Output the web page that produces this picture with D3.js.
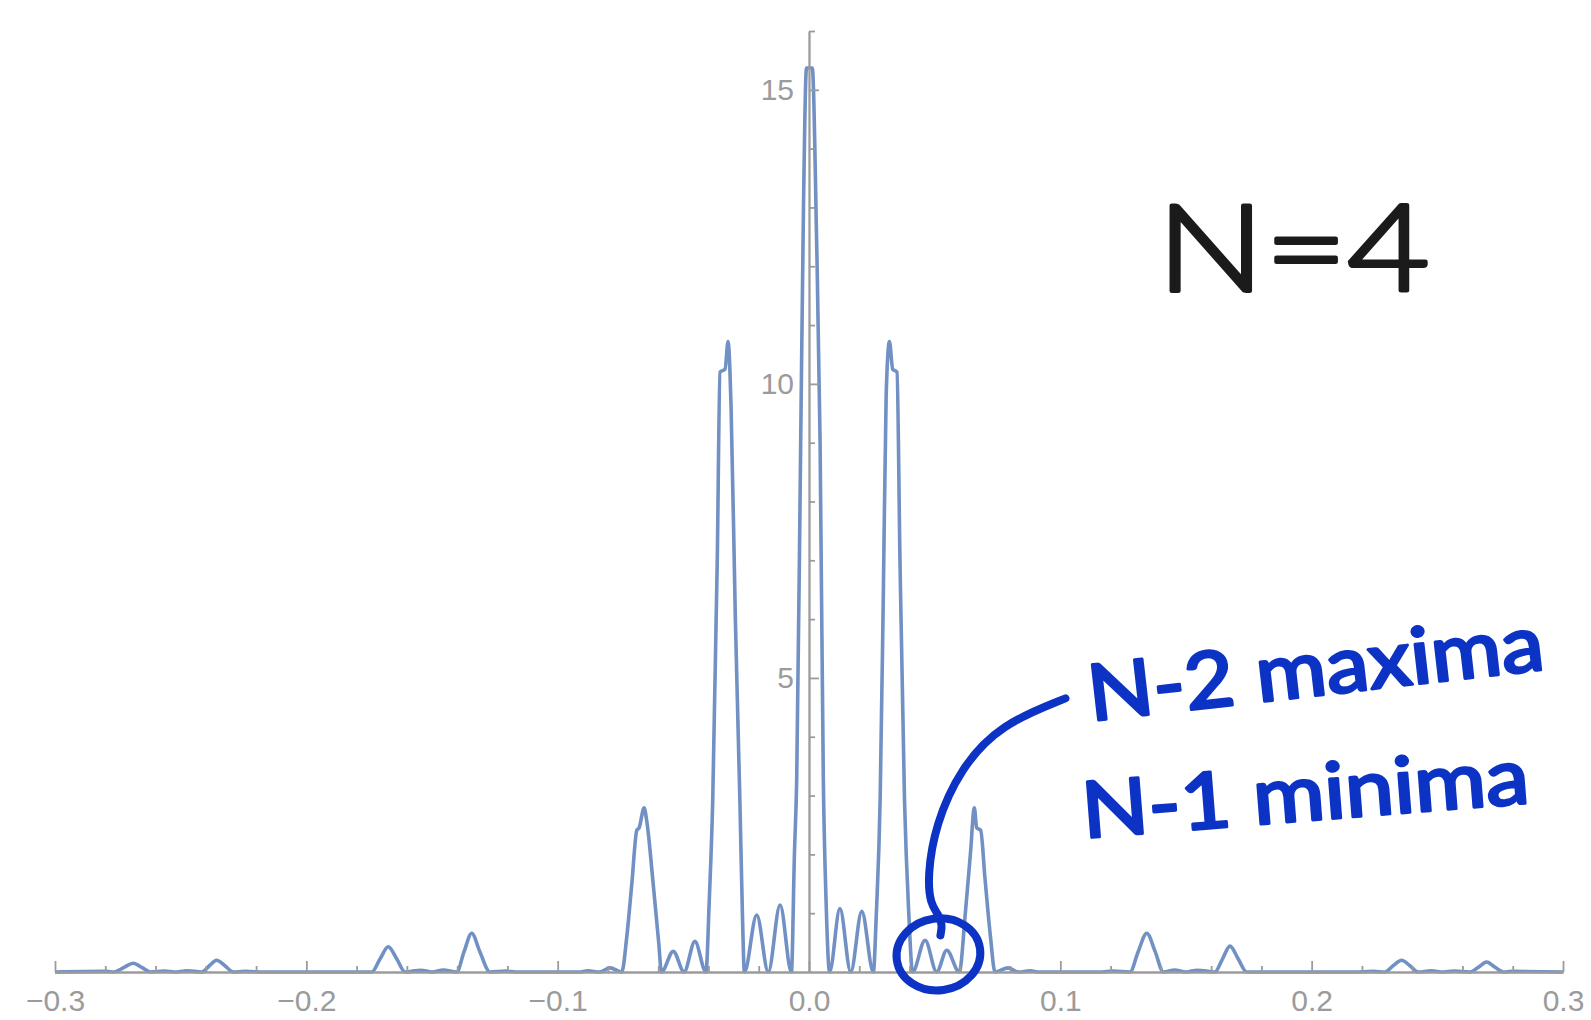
<!DOCTYPE html>
<html>
<head>
<meta charset="utf-8">
<script src="https://cdn.jsdelivr.net/npm/d3@7"></script>
<style>
  body { margin: 0; background: #fff; }
  svg { display: block; }
</style>
</head>
<body>
<div id="chart"></div>
<script>
// intensity curve, points (x = position, y = intensity)
var xPos = [
  -0.3, -0.2795, -0.2765, -0.2725, -0.2689, -0.2655, -0.262, -0.2565, -0.2525, -0.2475,
  -0.2416, -0.2385, -0.2357, -0.2325, -0.229, -0.2245, -0.2167, -0.174, -0.1707, -0.1674,
  -0.164, -0.1607, -0.1545, -0.15, -0.1455, -0.1402, -0.1372, -0.1342, -0.131, -0.1269,
  -0.1205, -0.1167, -0.0917, -0.0879, -0.0833, -0.0792, -0.0745,
  -0.0725, -0.0705, -0.0685, -0.0676, -0.0656, -0.0645, -0.062, -0.0598, -0.0587,
  -0.054, -0.0497, -0.0454, -0.041,
  -0.0397, -0.0383, -0.0365, -0.0354, -0.0334, -0.0322, -0.031, -0.0293, -0.0275, -0.0265, -0.0257,
  -0.0208, -0.0162, -0.0115, -0.007,
  -0.0058, -0.0049, -0.0033, -0.0022, -0.001, 0.0013, 0.003, 0.0044, 0.0057, 0.0068, 0.0082,
  0.0123, 0.0166, 0.021, 0.0256,
  0.0268, 0.0283, 0.0296, 0.0307, 0.032, 0.0333, 0.035, 0.0362, 0.038, 0.0397, 0.0412,
  0.0462, 0.0508, 0.0548, 0.0598,
  0.0622, 0.0642, 0.0658, 0.0667, 0.0683, 0.07, 0.0722, 0.074,
  0.0792, 0.0833, 0.0879, 0.0917, 0.1167, 0.1205, 0.1277, 0.131, 0.1344, 0.1377,
  0.141, 0.1455, 0.15, 0.1545, 0.1615, 0.1645, 0.1675, 0.1708, 0.1741, 0.2167,
  0.2245, 0.2292, 0.2325, 0.2358, 0.239, 0.2424, 0.2475, 0.2525, 0.2565, 0.263,
  0.2663, 0.2696, 0.273, 0.2763, 0.2795, 0.3
];
var intensity = [
  0, 0.01, 0, 0.08, 0.15, 0.08, 0, 0.015, 0, 0.02,
  0, 0.11, 0.2, 0.11, 0, 0.01, 0, 0, 0.22, 0.43,
  0.22, 0, 0.03, 0, 0.035, 0, 0.35, 0.66, 0.35, 0,
  0.015, 0, 0, 0.02, 0, 0.07, 0,
  0.6, 1.5, 2.41, 2.45, 2.79, 2.55, 1.5, 0.5, 0,
  0.35, 0, 0.52, 0,
  1.2, 2.92, 7.0, 10.2, 10.25, 10.72, 9.6, 6.0, 2.92, 1.0, 0,
  0.97, 0, 1.14, 0,
  2.0, 3.27, 9.04, 13.0, 15.37, 15.37, 12.5, 9.04, 3.27, 1.2, 0,
  1.08, 0, 1.03, 0,
  1.0, 2.92, 6.5, 9.8, 10.72, 10.25, 10.2, 7.0, 2.92, 1.0, 0,
  0.54, 0, 0.37, 0,
  1.0, 2.0, 2.79, 2.45, 2.41, 1.6, 0.6, 0,
  0.07, 0, 0.02, 0, 0, 0.015, 0, 0.35, 0.66, 0.35,
  0, 0.035, 0, 0.03, 0, 0.22, 0.44, 0.22, 0, 0,
  0.01, 0, 0.11, 0.2, 0.11, 0, 0.02, 0, 0.015, 0,
  0.08, 0.17, 0.08, 0, 0.01, 0
];
var xTicks = [-0.3, -0.2, -0.1, 0, 0.1, 0.2, 0.3];
var yTicks = [5, 10, 15];
var yMax = 16;

var width = 1591, height = 1020;
var axisColor = "#9b9b9b";
var curveColor = "#7190c3";
var inkBlue = "#0c33c4";

var svg = d3.select("#chart").append("svg")
    .attr("width", width)
    .attr("height", height);

var x = d3.scaleLinear().domain([-0.3, 0.3]).range([55, 1563]);
var y = d3.scaleLinear().domain([0, yMax]).range([972, 31]);

// curve goes under the axes (axes are drawn on top like in the original)
var data = xPos.map(function (v, i) { return {x: v, y: intensity[i]}; });
var line = d3.line()
    .x(function (d) { return x(d.x); })
    .y(function (d) { return y(d.y); })
    .curve(d3.curveMonotoneX);

svg.append("path")
    .datum(data)
    .attr("d", line)
    .attr("fill", "none")
    .attr("stroke", curveColor)
    .attr("stroke-width", 3.6)
    .attr("stroke-linejoin", "round");

// x axis, minor + major ticks pointing up
var xMinor = d3.range(-15, 16).filter(function (i) { return i % 5 != 0; }).map(function (i) { return i * 0.02; });
var gx = svg.append("g").attr("transform", "translate(0," + y(0) + ")");
gx.append("g").call(d3.axisBottom(x).tickValues(xMinor).tickSizeInner(-6).tickSizeOuter(0).tickFormat(""));
gx.append("g").call(d3.axisBottom(x).tickValues(xTicks).tickSizeInner(-11).tickSizeOuter(0)
    .tickPadding(18).tickFormat(d3.format(".1f")));

// y axis at x = 0, ticks pointing right, labels on the left
var yMinor = d3.range(1, yMax + 1).filter(function (i) { return i % 5 != 0; });
var gy = svg.append("g").attr("transform", "translate(" + x(0) + ",0)");
gy.append("g").call(d3.axisLeft(y).tickValues(yMinor).tickSizeInner(-6).tickSizeOuter(0).tickFormat(""));
gy.append("g").call(d3.axisLeft(y).tickValues(yTicks).tickSizeInner(-10).tickSizeOuter(0).tickPadding(15));

svg.selectAll(".domain").attr("stroke", axisColor).attr("stroke-width", 1.8);
svg.selectAll(".tick line").attr("stroke", axisColor).attr("stroke-width", 1.8);
svg.selectAll(".tick text")
    .attr("fill", axisColor)
    .style("font-family", "'Liberation Sans', Arial, sans-serif")
    .style("font-size", "30px");

// handwritten notes
svg.append("text")
    .attr("x", 1157).attr("y", 291)
    .attr("textLength", 273).attr("lengthAdjust", "spacingAndGlyphs")
    .style("font-family", "Lato, 'Open Sans', sans-serif")
    .style("font-size", "121px").style("font-weight", 300)
    .attr("fill", "#1b1b1b")
    .attr("stroke", "#1b1b1b").attr("stroke-width", 4).attr("stroke-linejoin", "round")
    .text("N=4");

svg.append("text")
    .attr("x", 1091).attr("y", 721)
    .attr("transform", "rotate(-6.5,1091,721)")
    .attr("textLength", 458).attr("lengthAdjust", "spacingAndGlyphs")
    .style("font-family", "Lato, 'Open Sans', sans-serif")
    .style("font-size", "78px").style("font-weight", 400)
    .attr("fill", inkBlue)
    .attr("stroke", inkBlue).attr("stroke-width", 3).attr("stroke-linejoin", "round")
    .text("N-2 maxima");

svg.append("text")
    .attr("x", 1084).attr("y", 838)
    .attr("transform", "rotate(-4.5,1084,838)")
    .attr("textLength", 448).attr("lengthAdjust", "spacingAndGlyphs")
    .style("font-family", "Lato, 'Open Sans', sans-serif")
    .style("font-size", "78px").style("font-weight", 400)
    .attr("fill", inkBlue)
    .attr("stroke", inkBlue).attr("stroke-width", 3).attr("stroke-linejoin", "round")
    .text("N-1 minima");

// circle round the secondary maxima between 1st and 2nd principal peak
var cx = x(0.0515), cy = y(0.3);
svg.append("ellipse")
    .attr("cx", cx).attr("cy", cy)
    .attr("rx", 42).attr("ry", 36)
    .attr("transform", "rotate(-8," + cx + "," + cy + ")")
    .attr("fill", "none")
    .attr("stroke", inkBlue)
    .attr("stroke-width", 8);

// pointer line from the text down into the circle
var pointer = [[127, -256], [62, -230], [22, -186], [-3, -130], [-11, -78], [-8, -50], [0, -40], [4, -30], [2, -19]];
svg.append("path")
    .attr("d", d3.line().curve(d3.curveBasis)(pointer.map(function (p) { return [cx + p[0], cy + p[1]]; })))
    .attr("fill", "none")
    .attr("stroke", inkBlue)
    .attr("stroke-width", 8)
    .attr("stroke-linecap", "round");
</script>
</body>
</html>
